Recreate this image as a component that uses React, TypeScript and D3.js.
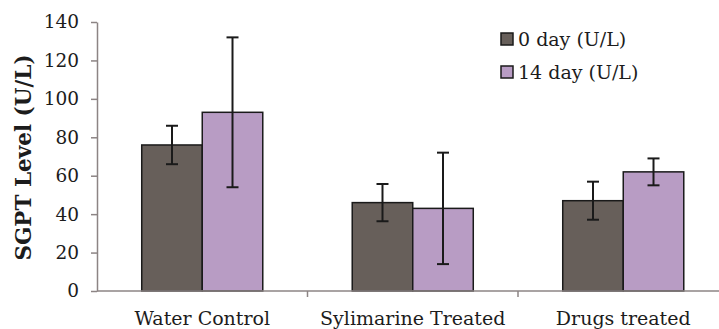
import * as d3 from "d3";
import React, { useRef, useEffect } from "react";

const categories = ["Water Control", "Sylimarine Treated", "Drugs treated"];
const seriesNames = ["0 day (U/L)", "14 day (U/L)"];
const day0 = [76, 46, 47];
const day0Err = [10, 9.7, 9.9];
const day14 = [93, 43, 62];
const day14Err = [39, 29, 7];
const yTicks = [0, 20, 40, 60, 80, 100, 120, 140];
const colors = ["#675f5a", "#b89cc4"];

const SgptChart = () => {
  const ref = useRef<SVGSVGElement | null>(null);

  useEffect(() => {
    if (!ref.current) return;
    const width = 719;
    const height = 329;
    const margin = { top: 22, right: 0, bottom: 38, left: 97 };
    const axisColor = "#8c8484";
    const font = "'DejaVu Serif', serif";
    const ink = "#1c1c1c";

    const svg = d3.select(ref.current).attr("width", width).attr("height", height);
    svg.selectAll("*").remove();

    const bottom = height - margin.bottom;

    // band spans past the right edge like the original
    const x0 = d3
      .scaleBand()
      .domain(categories)
      .range([margin.left, margin.left + 3 * 210.5])
      .paddingInner(0.425)
      .paddingOuter(0.2125);

    const x1 = d3.scaleBand().domain(seriesNames).range([0, x0.bandwidth()]);

    const y = d3.scaleLinear().domain([0, 140]).range([bottom, margin.top]);

    const rows = categories.map((c, i) => ({
      cat: c,
      vals: [
        { s: seriesNames[0], v: day0[i], e: day0Err[i], c: colors[0] },
        { s: seriesNames[1], v: day14[i], e: day14Err[i], c: colors[1] },
      ],
    }));

    // bars
    const groups = svg
      .selectAll(".grp")
      .data(rows)
      .enter()
      .append("g")
      .attr("transform", (d) => "translate(" + x0(d.cat) + ",0)");

    groups
      .selectAll("rect")
      .data((d) => d.vals)
      .enter()
      .append("rect")
      .attr("x", (d) => x1(d.s) ?? 0)
      .attr("y", (d) => y(d.v))
      .attr("width", x1.bandwidth())
      .attr("height", (d) => bottom - y(d.v))
      .attr("fill", (d) => d.c)
      .attr("stroke", "#1a1a1a")
      .attr("stroke-width", 1.5);

    // error bars
    const err = groups
      .selectAll(".err")
      .data((d) => d.vals)
      .enter()
      .append("g")
      .attr("stroke", "#1a1a1a")
      .attr("stroke-width", 2);

    const cx = (d) => (x1(d.s) ?? 0) + x1.bandwidth() / 2;
    err
      .append("line")
      .attr("x1", cx)
      .attr("x2", cx)
      .attr("y1", (d) => y(d.v + d.e))
      .attr("y2", (d) => y(d.v - d.e));
    [1, -1].forEach((sign) => {
      err
        .append("line")
        .attr("x1", (d) => cx(d) - 6)
        .attr("x2", (d) => cx(d) + 6)
        .attr("y1", (d) => y(d.v + sign * d.e))
        .attr("y2", (d) => y(d.v + sign * d.e));
    });

    // y axis
    const yAxis = svg
      .append("g")
      .attr("transform", "translate(" + margin.left + ",0)")
      .call(d3.axisLeft(y).tickValues(yTicks).tickSize(6).tickSizeOuter(0).tickPadding(12));
    yAxis.selectAll("line,path").attr("stroke", axisColor).attr("stroke-width", 1.5);
    yAxis
      .selectAll("text")
      .attr("font-family", font)
      .attr("font-size", 18.5)
      .attr("fill", ink);

    // x axis
    svg
      .append("line")
      .attr("x1", margin.left)
      .attr("x2", width)
      .attr("y1", bottom)
      .attr("y2", bottom)
      .attr("stroke", axisColor)
      .attr("stroke-width", 1.5);

    const step = x0.step();
    svg
      .selectAll(".xtick")
      .data(categories.slice(1))
      .enter()
      .append("line")
      .attr("x1", (d) => (x0(d) ?? 0) - (step - x0.bandwidth()) / 2)
      .attr("x2", (d) => (x0(d) ?? 0) - (step - x0.bandwidth()) / 2)
      .attr("y1", bottom)
      .attr("y2", bottom + 6)
      .attr("stroke", axisColor)
      .attr("stroke-width", 1.5);

    svg
      .selectAll(".xlabel")
      .data(categories)
      .enter()
      .append("text")
      .attr("x", (d) => (x0(d) ?? 0) + x0.bandwidth() / 2)
      .attr("y", bottom + 34)
      .attr("text-anchor", "middle")
      .attr("font-family", font)
      .attr("font-size", 19)
      .attr("fill", ink)
      .text((d) => d);

    // y label
    svg
      .append("text")
      .attr("transform", "translate(23," + ((margin.top + bottom) / 2 + 1) + ") rotate(-90)")
      .attr("text-anchor", "middle")
      .attr("dominant-baseline", "central")
      .attr("font-family", font)
      .attr("font-weight", "bold")
      .attr("font-size", 21.5)
      .attr("fill", ink)
      .text("SGPT Level (U/L)");

    // legend
    const legend = svg
      .selectAll(".legend")
      .data(seriesNames)
      .enter()
      .append("g")
      .attr("transform", (d, i) => "translate(501," + (39 + i * 33) + ")");

    legend
      .append("rect")
      .attr("x", 0)
      .attr("y", -6)
      .attr("width", 12)
      .attr("height", 12)
      .attr("fill", (d, i) => colors[i])
      .attr("stroke", "#1a1a1a")
      .attr("stroke-width", 1.5);

    legend
      .append("text")
      .attr("x", 17)
      .attr("y", 0)
      .attr("dominant-baseline", "central")
      .attr("font-family", font)
      .attr("font-size", 19)
      .attr("fill", ink)
      .text((d) => d);
  }, []);

  return <svg ref={ref} style={{ position: "absolute", left: 0, top: 0, background: "#fff" }} />;
};

export default function App() {
  return <SgptChart />;
}
